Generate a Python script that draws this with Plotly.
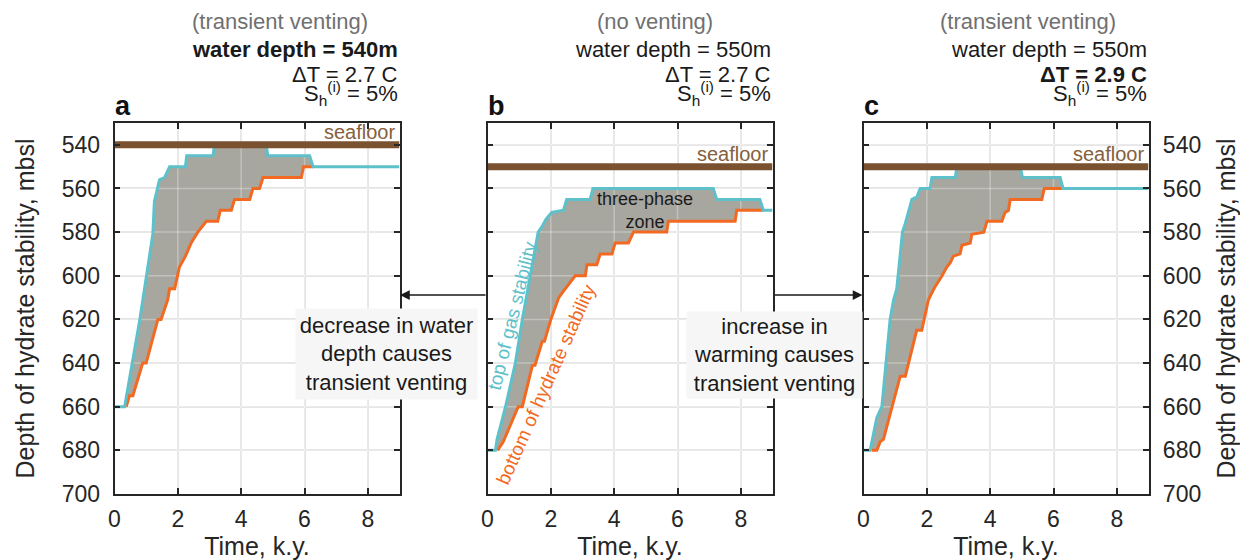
import plotly.graph_objects as go

# ---- shared axes -------------------------------------------------------
X_RANGE = [0, 9]
Y_RANGE = [700, 530]          # depth increases downward
X_TICKS = [0, 2, 4, 6, 8]
Y_TICKS = [540, 560, 580, 600, 620, 640, 660, 680, 700]

PANEL_LETTERS = ["a", "b", "c"]
SEAFLOOR = [540, 550, 550]    # mbsl
HEADERS = [
    ["(transient venting)", "<b>water depth = 540m</b>", "ΔT = 2.7 C", "S<sub>h</sub><sup>(i)</sup> = 5%"],
    ["(no venting)", "water depth = 550m", "ΔT = 2.7 C", "S<sub>h</sub><sup>(i)</sup> = 5%"],
    ["(transient venting)", "water depth = 550m", "<b>ΔT = 2.9 C</b>", "S<sub>h</sub><sup>(i)</sup> = 5%"],
]

# ---- panel a : water depth 540 m, ΔT 2.7 C ----------------------------
A_GAS_T = [0, 0.32, 0.8, 1.21, 1.26, 1.42, 1.58, 1.74, 2.24, 2.28, 3.11, 3.16, 4.79, 4.84, 6.16, 6.27, 9.0]
A_GAS_D = [660, 660, 620, 581, 566, 556, 555, 550, 550, 545, 545, 540, 540, 545, 545, 550, 550]
A_HYD_T = [0.37, 0.47, 0.58, 0.89, 1.0, 1.37, 1.47, 1.68, 1.74, 1.9, 2.05, 2.24, 2.42, 2.63, 2.9, 3.26,
           3.34, 3.69, 3.79, 4.27, 4.37, 4.58, 4.69, 5.9, 5.97, 6.27]
A_HYD_D = [660, 655, 655, 640, 640, 620, 620, 611, 606, 606, 596, 591, 585, 580, 575, 575,
           570, 570, 565, 565, 560, 560, 555, 555, 550, 550]

# ---- panel b : water depth 550 m, ΔT 2.7 C ----------------------------
B_GAS_T = [0, 0.25, 0.3, 0.57, 0.88, 1.1, 1.35, 1.6, 1.7, 1.8, 1.85, 2.03, 2.4, 2.5, 3.24, 3.33,
           7.13, 7.24, 8.6, 8.71, 9.0]
B_GAS_D = [680, 680, 675, 660, 640, 620, 600, 580, 578, 575, 574, 571, 570, 565, 565, 560,
           560, 565, 565, 570, 570]
B_HYD_T = [0.32, 0.4, 0.5, 0.97, 1.1, 1.42, 1.5, 1.73, 1.8, 2.0, 2.25, 2.4, 2.77, 3.09, 3.14, 3.45,
           3.56, 3.93, 4.03, 4.45, 4.61, 5.66, 5.71, 7.82, 7.87, 8.71]
B_HYD_D = [680, 678, 676, 660, 660, 641, 641, 630, 630, 620, 610, 607, 600, 600, 595, 595,
           590, 590, 585, 585, 580, 580, 575, 575, 570, 570]

# ---- panel c : water depth 550 m, ΔT 2.9 C ----------------------------
C_GAS_T = [0, 0.21, 0.42, 0.58, 0.84, 0.95, 1.05, 1.23, 1.32, 1.53, 1.68, 1.79, 2.1, 2.16, 2.9, 2.95,
           4.95, 5.02, 6.21, 6.3, 9.0]
C_GAS_D = [680, 680, 665, 660, 620, 611, 606, 580, 576, 565, 564, 560, 560, 555, 555, 550,
           550, 555, 555, 560, 560]
C_HYD_T = [0.26, 0.42, 0.53, 0.63, 1.16, 1.32, 1.68, 1.84, 2.05, 2.26, 2.48, 2.63, 2.74, 2.84, 3.05, 3.11,
           3.37, 3.42, 3.8, 3.9, 4.37, 4.47, 4.58, 4.63, 5.63, 5.71, 6.3]
C_HYD_D = [680, 680, 676, 675, 646, 646, 625, 625, 611, 605, 600, 596, 594, 591, 590, 586,
           585, 581, 580, 575, 575, 571, 570, 565, 565, 560, 560]

PANELS = [
    (A_GAS_T, A_GAS_D, A_HYD_T, A_HYD_D),
    (B_GAS_T, B_GAS_D, B_HYD_T, B_HYD_D),
    (C_GAS_T, C_GAS_D, C_HYD_T, C_HYD_D),
]

# ---- styling -----------------------------------------------------------
FONT = "Liberation Sans, Arial, Helvetica, sans-serif"
INK = "#262626"
GAS_COLOR = "#5ec1ca"
HYD_COLOR = "#f26a22"
ZONE_FILL = "#a7a69f"
SEAFLOOR_COLOR = "#7a5230"
GRID = "#e2e2e2"

W, H = 1240, 560
X_SPANS = [(114.5, 399.5), (487.5, 772.5), (863.5, 1148.5)]
Y_SPAN = (123, 494)
HEADER_CENTER_1 = [280, 655, 1028]


def fx(px):
    return px / W


def fy(py):
    return 1 - py / H


fig = go.Figure()

for i, (gt, gd, ht, hd) in enumerate(PANELS):
    xa = "x" if i == 0 else f"x{i + 1}"
    ya = "y" if i == 0 else f"y{i + 1}"

    # three-phase zone: region between top of gas and bottom of hydrate stability
    t_end = ht[-1]
    top = [(t, d) for t, d in zip(gt, gd) if t <= t_end]
    poly_t = [p[0] for p in top] + ht[::-1]
    poly_d = [p[1] for p in top] + hd[::-1]
    fig.add_trace(go.Scatter(x=poly_t, y=poly_d, mode="lines", fill="toself",
                             fillcolor=ZONE_FILL, line=dict(width=0), hoverinfo="skip",
                             showlegend=False, xaxis=xa, yaxis=ya))

    # light grid drawn over the shaded zone
    gx, gy = [], []
    for xt in X_TICKS[1:]:
        gx += [xt, xt, None]
        gy += [Y_RANGE[0], Y_RANGE[1], None]
    for yt in Y_TICKS[:-1]:
        gx += [X_RANGE[0], X_RANGE[1], None]
        gy += [yt, yt, None]
    fig.add_trace(go.Scatter(x=gx, y=gy, mode="lines",
                             line=dict(color="rgba(255,255,255,0.3)", width=1.5),
                             hoverinfo="skip", showlegend=False, xaxis=xa, yaxis=ya))

    fig.add_trace(go.Scatter(x=ht, y=hd, mode="lines", line=dict(color=HYD_COLOR, width=3),
                             name="bottom of hydrate stability", showlegend=False,
                             xaxis=xa, yaxis=ya))
    fig.add_trace(go.Scatter(x=gt, y=gd, mode="lines", line=dict(color=GAS_COLOR, width=3),
                             name="top of gas stability", showlegend=False,
                             xaxis=xa, yaxis=ya))
    fig.add_trace(go.Scatter(x=X_RANGE, y=[SEAFLOOR[i]] * 2, mode="lines",
                             line=dict(color=SEAFLOOR_COLOR, width=7),
                             name="seafloor", showlegend=False, xaxis=xa, yaxis=ya))

    fig.add_annotation(text="seafloor", x=X_RANGE[1], y=SEAFLOOR[i], xref=xa, yref=ya,
                       xanchor="right", yanchor="middle", xshift=-3, yshift=12.5,
                       showarrow=False, font=dict(family=FONT, size=20, color="#85603c"))

axis_common = dict(
    showline=True, linecolor=INK, linewidth=1.5, mirror="ticks",
    ticks="inside", ticklen=6, tickwidth=1.5, tickcolor=INK,
    showgrid=True, gridcolor=GRID, gridwidth=1.5, zeroline=False,
    tickfont=dict(family=FONT, size=23, color=INK), automargin=False,
)

layout = dict(
    width=W, height=H, margin=dict(l=0, r=0, t=0, b=0),
    paper_bgcolor="white", plot_bgcolor="white", showlegend=False,
    font=dict(family=FONT, color=INK),
)

for i, (x0, x1) in enumerate(X_SPANS):
    sfx = "" if i == 0 else str(i + 1)
    xa_name = "x" + sfx
    layout["xaxis" + sfx] = dict(
        axis_common, domain=[fx(x0), fx(x1)], range=X_RANGE, tickvals=X_TICKS,
        anchor="y" + sfx, ticklabelstandoff=4,
        title=dict(text="Time, k.y.", font=dict(family=FONT, size=25, color=INK), standoff=4),
    )
    ydict = dict(
        axis_common, domain=[fy(Y_SPAN[1]), fy(Y_SPAN[0])], range=Y_RANGE, tickvals=Y_TICKS,
        anchor=xa_name,
    )
    if i == 0:
        ydict.update(ticklabelstandoff=8,
                     title=dict(text="Depth of hydrate stability, mbsl",
                                font=dict(family=FONT, size=25, color=INK), standoff=20))
    elif i == 1:
        ydict.update(showticklabels=False)
    else:
        ydict.update(side="right", ticklabelstandoff=8,
                     title=dict(text="Depth of hydrate stability, mbsl",
                                font=dict(family=FONT, size=25, color=INK), standoff=20))
    layout["yaxis" + sfx] = ydict

fig.update_layout(**layout)

# ---- header text above each panel -------------------------------------
HEADER_Y = [22, 49, 75, 94]
for i, lines in enumerate(HEADERS):
    x0, x1 = X_SPANS[i]
    fig.add_annotation(text=lines[0], xref="paper", yref="paper",
                       x=fx(HEADER_CENTER_1[i]), y=fy(HEADER_Y[0]), xanchor="center",
                       yanchor="middle", showarrow=False,
                       font=dict(family=FONT, size=22, color="#707070"))
    for k in range(1, 4):
        fig.add_annotation(text=lines[k], xref="paper", yref="paper",
                           x=fx(x1 + 0.5), y=fy(HEADER_Y[k]), xanchor="right",
                           yanchor="middle", showarrow=False,
                           font=dict(family=FONT, size=22, color="#1a1a1a"))
    fig.add_annotation(text=f"<b>{PANEL_LETTERS[i]}</b>", xref="paper", yref="paper",
                       x=fx(x0 - 1), y=fy(Y_SPAN[0] - 1), xanchor="left", yanchor="bottom",
                       showarrow=False, borderpad=0,
                       font=dict(family=FONT, size=27, color="#111111"))

# ---- labels inside panel b ---------------------------------------------
fig.add_annotation(text="three-phase<br>zone", x=4.98, y=570, xref="x2", yref="y2",
                   showarrow=False, font=dict(family=FONT, size=18, color="#1a1a1a"))
fig.add_annotation(text="top of gas stability", x=0.77, y=618, xref="x2", yref="y2",
                   textangle=-76, showarrow=False,
                   font=dict(family=FONT, size=19, color=GAS_COLOR))
fig.add_annotation(text="bottom of hydrate stability", x=1.85, y=650, xref="x2", yref="y2",
                   textangle=-66, showarrow=False,
                   font=dict(family=FONT, size=19, color=HYD_COLOR))

# ---- explanatory boxes and arrows --------------------------------------
fig.add_annotation(text="decrease in water<br>depth causes<br>transient venting",
                   xref="paper", yref="paper", x=fx(386.5), y=fy(354),
                   xanchor="center", yanchor="middle", showarrow=False,
                   width=177, height=86, borderpad=2, bgcolor="#f6f6f6",
                   font=dict(family=FONT, size=22, color="#1a1a1a"))
fig.add_annotation(text="increase in<br>warming causes<br>transient venting",
                   xref="paper", yref="paper", x=fx(774.5), y=fy(355),
                   xanchor="center", yanchor="middle", showarrow=False,
                   width=171, height=82, borderpad=2, bgcolor="#f6f6f6",
                   font=dict(family=FONT, size=22, color="#1a1a1a"))
fig.add_annotation(text="", xref="paper", yref="paper", x=fx(400), y=fy(295),
                   ax=87, ay=0, showarrow=True, arrowhead=2, arrowsize=1.3,
                   arrowwidth=1.5, arrowcolor="#1a1a1a", standoff=0)
fig.add_annotation(text="", xref="paper", yref="paper", x=fx(862.5), y=fy(295),
                   ax=-89, ay=0, showarrow=True, arrowhead=2, arrowsize=1.3,
                   arrowwidth=1.5, arrowcolor="#1a1a1a", standoff=0)

fig.write_html("out.html")
